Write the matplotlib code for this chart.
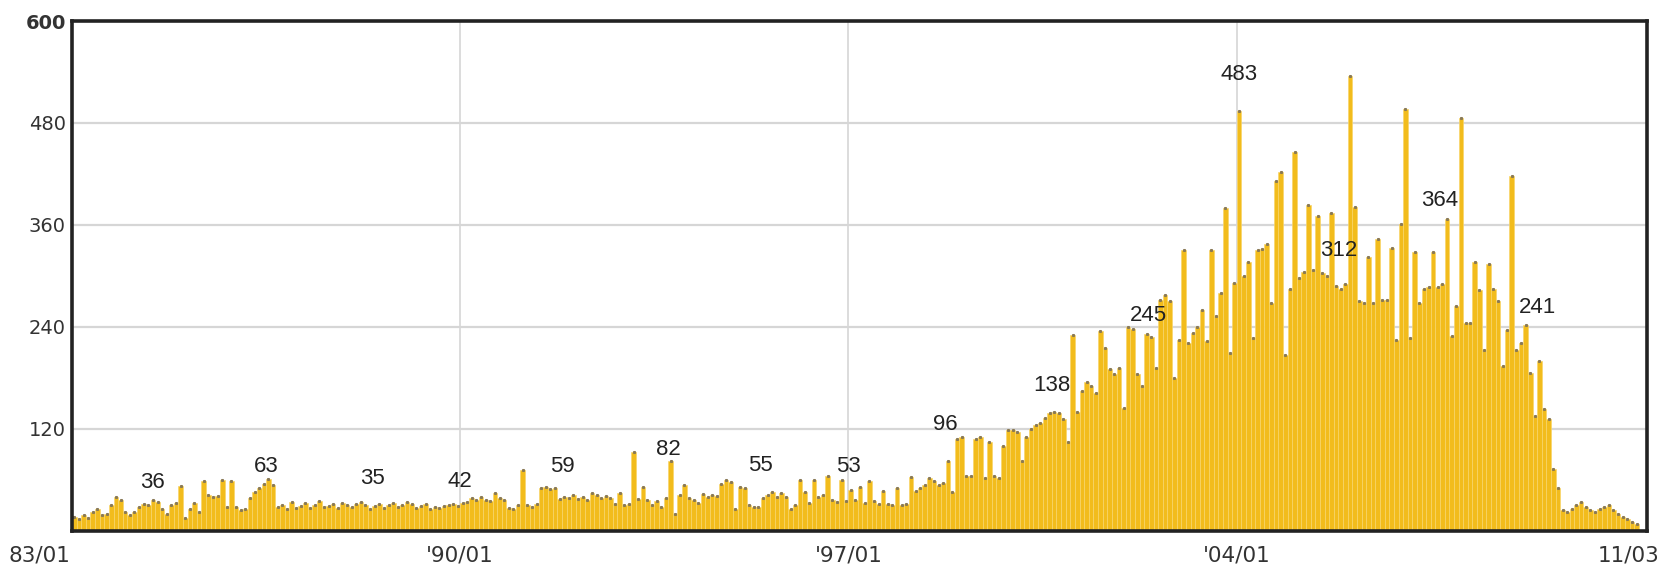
import numpy as np
import matplotlib
matplotlib.use("Agg")
import matplotlib.pyplot as plt

# monthly counts, one list per year (1983/01 ... 2011/03)
y1983 = [16, 14, 18, 15, 22, 26, 18, 20, 30, 40, 36, 22]
y1984 = [18, 22, 28, 32, 30, 36, 34, 25, 20, 30, 33, 53]
y1985 = [15, 26, 33, 22, 58, 42, 40, 41, 60, 28, 59, 28]
y1986 = [24, 26, 38, 46, 50, 55, 61, 54, 28, 30, 26, 34]
y1987 = [27, 29, 33, 27, 30, 35, 28, 29, 31, 27, 33, 30]
y1988 = [28, 32, 34, 30, 26, 29, 31, 27, 30, 33, 28, 30]
y1989 = [34, 32, 27, 29, 31, 26, 28, 27, 29, 30, 31, 29]
y1990 = [33, 34, 38, 36, 40, 36, 35, 44, 38, 36, 27, 26]
y1991 = [30, 71, 30, 28, 32, 50, 52, 49, 50, 37, 40, 38]
y1992 = [42, 37, 40, 36, 44, 42, 38, 41, 39, 32, 44, 30]
y1993 = [32, 93, 37, 52, 36, 30, 35, 28, 38, 82, 20, 42]
y1994 = [54, 38, 36, 33, 43, 40, 42, 41, 55, 60, 57, 25]
y1995 = [52, 50, 30, 28, 28, 38, 42, 45, 40, 44, 40, 26]
y1996 = [30, 60, 45, 33, 60, 40, 42, 64, 36, 34, 60, 35]
y1997 = [48, 36, 52, 33, 58, 35, 32, 47, 31, 30, 50, 30]
y1998 = [32, 63, 47, 50, 54, 62, 58, 54, 56, 82, 45, 108]
y1999 = [110, 64, 64, 108, 110, 62, 105, 64, 62, 100, 118, 119]
y2000 = [116, 82, 110, 120, 124, 127, 133, 138, 140, 138, 132, 105]
y2001 = [230, 140, 165, 175, 170, 162, 235, 215, 190, 185, 192, 145]
y2002 = [240, 238, 185, 170, 232, 228, 192, 272, 278, 270, 180, 225]
y2003 = [331, 221, 233, 240, 260, 223, 331, 253, 280, 380, 209, 292]
y2004 = [494, 300, 316, 227, 330, 332, 338, 268, 412, 422, 207, 284]
y2005 = [446, 297, 304, 383, 307, 371, 303, 300, 374, 288, 285, 290]
y2006 = [535, 381, 270, 268, 322, 268, 343, 272, 272, 333, 225, 361]
y2007 = [496, 227, 328, 268, 285, 287, 328, 287, 290, 367, 229, 264]
y2008 = [486, 244, 244, 316, 283, 213, 314, 285, 270, 194, 236, 418]
y2009 = [213, 221, 242, 186, 135, 200, 143, 131, 73, 50, 24, 22]
y2010 = [26, 30, 34, 28, 24, 22, 26, 28, 30, 24, 20, 16]
y2011 = [14, 10, 8]

# x axis labels (month index -> text)
tick_months = [84, 168, 252]
tick_labels = ["'90/01", "'97/01", "'04/01"]
first_label = "83/01"
last_label = "11/03"
y_ticks = [120, 240, 360, 480, 600]

# value callouts: month, value shown, lift of the text above the value (pt)
label_months = [17.5, 42, 65, 84, 106, 129, 149, 168, 189, 212, 233, 252.5, 274, 296, 317]
label_values = [36, 63, 35, 42, 59, 82, 55, 53, 96, 138, 245, 483, 312, 364, 241]
label_lift = [13, 8, 16, 10, 10, 8, 13, 14, 18, 20, 5, 33, 11, 15, 13]

values = np.array(
    y1983 + y1984 + y1985 + y1986 + y1987 + y1988 + y1989 + y1990 + y1991
    + y1992 + y1993 + y1994 + y1995 + y1996 + y1997 + y1998 + y1999 + y2000
    + y2001 + y2002 + y2003 + y2004 + y2005 + y2006 + y2007 + y2008 + y2009
    + y2010 + y2011
)
months = np.arange(len(values))

W, H, DPI = 1661, 570, 100
fig = plt.figure(figsize=(W / DPI, H / DPI), dpi=DPI)
ax = fig.add_axes([72 / W, 1 - 530.7 / H, 1575 / W, 509.7 / H])

ax.bar(months, values, width=1.0, align="edge", color="#F2BC1C",
       edgecolor="#F8D56A", linewidth=0.5, zorder=2)
ax.plot(months + 0.5, values, linestyle="none", marker="s", markersize=1.2,
        color="#8a7a55", zorder=3)

ax.set_xlim(0, 1575 / 4.622)
ax.set_ylim(0, 600)

for v in y_ticks[:-1]:
    ax.axhline(v, color="#d6d6d6", linewidth=1.6, zorder=1)
for m in tick_months:
    ax.axvline(m, color="#d6d6d6", linewidth=1.2, zorder=1)

ax.set_yticks(y_ticks)
ax.set_yticklabels([str(v) for v in y_ticks], fontsize=14, color="#333333",
                   family="DejaVu Sans")
ax.get_yticklabels()[-1].set_fontweight("bold")
ax.set_xticks(tick_months)
ax.set_xticklabels(tick_labels, fontsize=15.5, color="#333333",
                   family="DejaVu Sans")
ax.tick_params(axis="both", length=0)
ax.tick_params(axis="y", pad=4.5)
ax.tick_params(axis="x", pad=11)

# end labels sit outside the frame corners
ax.annotate(first_label, (0, 0), xycoords="axes fraction", xytext=(-1, -11),
            textcoords="offset points", ha="right", va="top", fontsize=15.5,
            color="#333333", family="DejaVu Sans")
ax.annotate(last_label, (1, 0), xycoords="axes fraction", xytext=(9, -11),
            textcoords="offset points", ha="right", va="top", fontsize=15.5,
            color="#333333", family="DejaVu Sans")

for s in ax.spines.values():
    s.set_linewidth(2.6)
    s.set_color("#222222")
    s.set_zorder(5)

for m, v, lift in zip(label_months, label_values, label_lift):
    ax.annotate(str(v), (m, v), xytext=(0, lift), textcoords="offset points",
                ha="center", va="center", fontsize=16, color="#222222",
                family="Liberation Sans", zorder=6)

fig.savefig("out.png", dpi=DPI)
